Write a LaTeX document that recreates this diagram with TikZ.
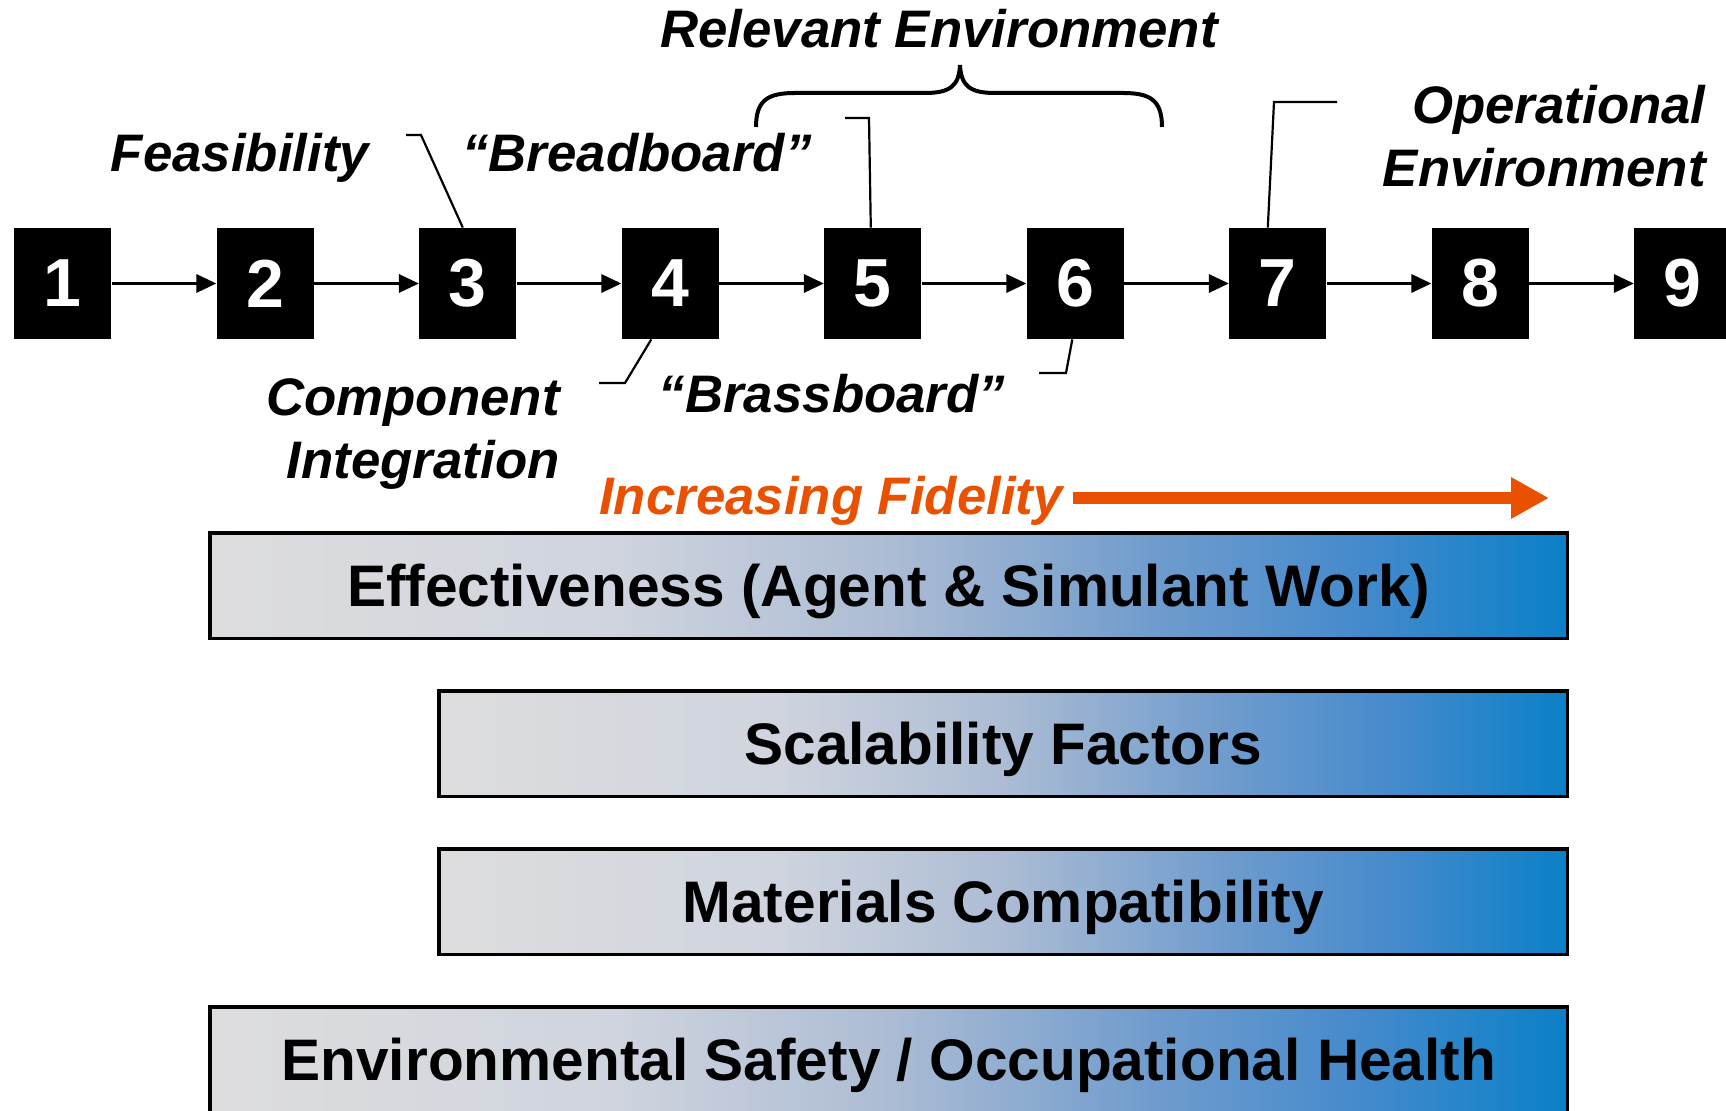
\documentclass[tikz,border=0pt]{standalone}
\usepackage{fontspec}
\setmainfont{Liberation Sans}
\usetikzlibrary{arrows.meta,calc}

\definecolor{fidorange}{RGB}{233,81,0}
\definecolor{barL}{RGB}{221,221,222}
\definecolor{barA}{RGB}{207,212,222}
\definecolor{barB}{RGB}{172,188,212}
\definecolor{barC}{RGB}{110,155,205}
\definecolor{barD}{RGB}{68,138,204}
\definecolor{barR}{RGB}{10,128,200}
\pgfdeclarehorizontalshading{fidelity}{100bp}{color(0bp)=(barL); color(25bp)=(barL); color(40bp)=(barA); color(50bp)=(barB); color(60bp)=(barC); color(67.5bp)=(barD); color(75bp)=(barR); color(100bp)=(barR)}

\newcommand{\numfont}{\fontsize{34}{34}\selectfont\bfseries}
\newcommand{\lblfont}{\fontsize{26.4}{31.5}\selectfont\bfseries\itshape}
\newcommand{\barfont}{\fontsize{29.3}{30}\selectfont\bfseries}

\begin{document}
\begin{tikzpicture}[
		x=0.5pt, y=-0.5pt,
		lvl/.style = {rectangle, fill=black, text=white, font=\numfont, minimum width=48.5pt, minimum height=55.5pt, inner sep=0},
		lbl/.style = {font=\lblfont, inner sep=0},
		bar/.style = {rectangle, draw=black, line width=1.7pt, shading=fidelity, font=\barfont, text height=21pt, text depth=0pt, minimum height=52.75pt, inner sep=0},
		r/.style = {-{Triangle[length=10pt,width=9pt]}, line width=1.6pt},
		ldr/.style = {line width=1.1pt},
		fid/.style = {-{Triangle[length=19pt,width=19.5pt]}, line width=6pt, draw=fidorange}
		]
		\useasboundingbox (0,0) rectangle (1726,1111);
		
		%Nodes
		\node[lvl]	(l1)	at (62.8, 283.5)	{1};
		\node[lvl]	(l2)	at (265.3, 283.5)	{2};
		\node[lvl]	(l3)	at (467.8, 283.5)	{3};
		\node[lvl]	(l4)	at (670.3, 283.5)	{4};
		\node[lvl]	(l5)	at (872.8, 283.5)	{5};
		\node[lvl]	(l6)	at (1075.3, 283.5)	{6};
		\node[lvl]	(l7)	at (1277.8, 283.5)	{7};
		\node[lvl]	(l8)	at (1480.3, 283.5)	{8};
		\node[lvl]	(l9)	at (1682.8, 283.5)	{9};
		
		\node[lbl, anchor=base]			(feas)	at (240, 172)	{Feasibility};
		\node[lbl, anchor=base]			(bread)	at (637, 172)	{“Breadboard”};
		\node[lbl, anchor=base]			(relev)	at (939, 48)	{Relevant Environment};
		\node[lbl, anchor=base east, align=right]	(oper)	at (1706, 187)	{Operational\\Environment};
		\node[lbl, anchor=base east, align=right]	(comp)	at (560, 479)	{Component\\Integration};
		\node[lbl, anchor=base]			(brass)	at (832, 413)	{“Brassboard”};
		\node[lbl, anchor=base, text=fidorange]	(incr)	at (831, 515)	{Increasing Fidelity};
		
		\node[bar, minimum width=678.8pt]	(eff)	at (888.8, 585.75)	{Effectiveness (Agent \& Simulant Work)};
		\node[bar, minimum width=564.3pt]	(scal)	at (1003.3, 743.75)	{Scalability Factors};
		\node[bar, minimum width=564.3pt]	(mat)	at (1003.3, 901.75)	{Materials Compatibility};
		\node[bar, minimum width=678.8pt]	(env)	at (888.8, 1059.75)	{Environmental Safety / Occupational Health};
		
		\coordinate (feasA)	at (406, 135);
		\coordinate (feasB)	at (421, 135);
		\coordinate (breadA)	at (845, 118);
		\coordinate (breadB)	at (869, 118);
		\coordinate (operA)	at (1337, 102);
		\coordinate (operB)	at (1274, 102);
		\coordinate (compA)	at (599, 383);
		\coordinate (compB)	at (625, 383);
		\coordinate (brassA)	at (1039, 373);
		\coordinate (brassB)	at (1066, 373);
		\coordinate (fidA)	at (1073, 498);
		\coordinate (fidB)	at (1549, 498);
		
		%Lines
		\draw[r] (l1) -- (l2);
		\draw[r] (l2) -- (l3);
		\draw[r] (l3) -- (l4);
		\draw[r] (l4) -- (l5);
		\draw[r] (l5) -- (l6);
		\draw[r] (l6) -- (l7);
		\draw[r] (l7) -- (l8);
		\draw[r] (l8) -- (l9);
		
		\draw[ldr] (feasA)  -- (feasB)  -- ($(l3.north)+(-5,0)$);
		\draw[ldr] (breadA) -- (breadB) -- ($(l5.north)+(-2,0)$);
		\draw[ldr] (operA)  -- (operB)  -- ($(l7.north)+(-10,0)$);
		\draw[ldr] (compA)  -- (compB)  -- ($(l4.south)+(-19,0)$);
		\draw[ldr] (brassA) -- (brassB) -- ($(l6.south)+(-3,0)$);
		
		\draw[fid] (fidA) -- (fidB);
		
		%Brace
		\draw[line width=2pt] (756, 127) .. controls (756, 100) and (768, 93) .. (795, 93)
			-- (925, 93) .. controls (950, 93) and (959, 86) .. (960, 65)
			.. controls (961, 86) and (970, 93) .. (995, 93)
			-- (1123, 93) .. controls (1150, 93) and (1162, 100) .. (1162, 127);
		
	\end{tikzpicture}
\end{document}
